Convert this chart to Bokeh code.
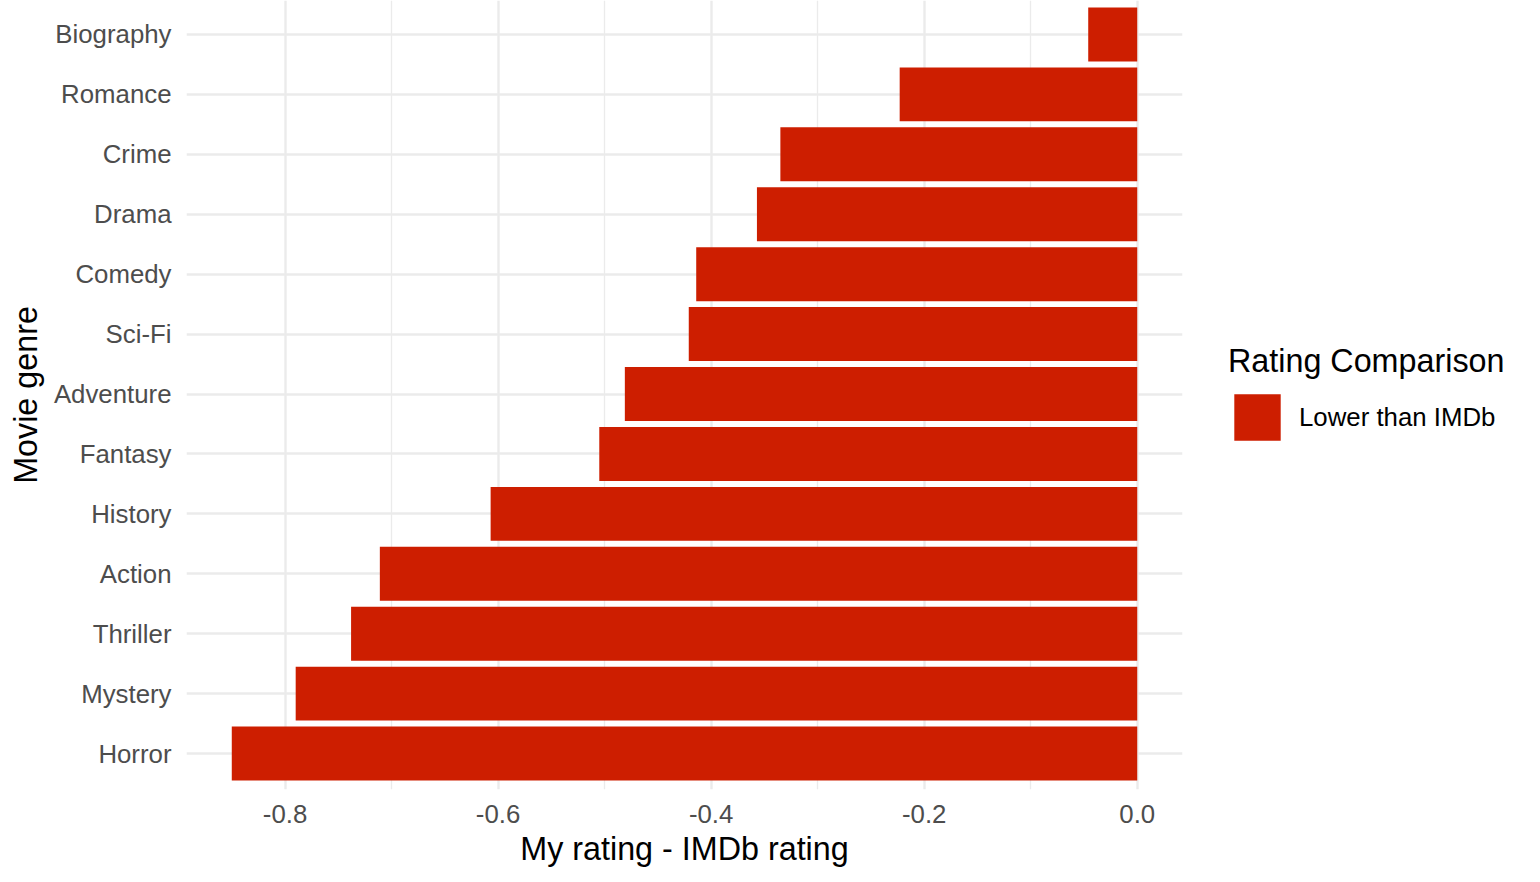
from bokeh.plotting import figure
from bokeh.models import (Range1d, FixedTicker, NumeralTickFormatter, Legend,
                          LegendItem, ColumnDataSource)
from bokeh.embed import file_html
from bokeh.resources import INLINE

# ---- data (top to bottom as shown) ----
genres = ["Biography", "Romance", "Crime", "Drama", "Comedy", "Sci-Fi",
          "Adventure", "Fantasy", "History", "Action", "Thriller", "Mystery",
          "Horror"]
diffs = [-0.046, -0.223, -0.335, -0.357, -0.414, -0.421, -0.481, -0.505,
         -0.607, -0.711, -0.738, -0.790, -0.850]
x_ticks = [-0.8, -0.6, -0.4, -0.2, 0.0]
x_minor = [-0.7, -0.5, -0.3, -0.1]
legend_label = "Lower than IMDb"
legend_title = "Rating Comparison"

BAR = "#CD1E00"
FONT = "Liberation Sans"

FL, FR, FB = 186, 1182, 789   # frame left / right / bottom in page px
H = 880

n = len(genres)
ypos = [n - i for i in range(n)]
src = ColumnDataSource(dict(y=ypos, right=diffs, left=[0] * n))

span = max(abs(v) for v in diffs)
xr = Range1d(min(diffs) - 0.05 * span, 0 + 0.05 * span)
yr = Range1d(0.4, n + 0.567)

p = figure(frame_width=FR - FL, frame_height=FB, x_range=xr, y_range=yr,
           min_border_left=FL, min_border_right=0, min_border_top=0,
           min_border_bottom=H - FB, output_backend="svg",
           toolbar_location=None)
p.outline_line_color = None
p.background_fill_color = "white"
p.border_fill_color = "white"

bars = p.hbar(y="y", left="left", right="right", height=0.9, source=src,
              fill_color=BAR, line_color=None)

# axes
xa = p.xaxis[0]
xa.ticker = FixedTicker(ticks=x_ticks, minor_ticks=x_minor)
xa.formatter = NumeralTickFormatter(format="0.0")
xa.axis_label = "My rating - IMDb rating"
xa.major_label_standoff = 11
xa.axis_label_standoff = 5

ya = p.yaxis[0]
ya.ticker = FixedTicker(ticks=ypos)
ya.major_label_overrides = {y: g for y, g in zip(ypos, genres)}
ya.axis_label = "Movie genre"
ya.major_label_standoff = 15
ya.axis_label_standoff = 7

for ax in (xa, ya):
    ax.axis_line_color = None
    ax.major_tick_line_color = None
    ax.minor_tick_line_color = None
    ax.major_tick_out = 0
    ax.major_tick_in = 0
    ax.major_label_text_font = FONT
    ax.major_label_text_font_size = "25.8px"
    ax.major_label_text_color = "#4D4D4D"
    ax.axis_label_text_font = FONT
    ax.axis_label_text_font_size = "32.3px"
    ax.axis_label_text_font_style = "normal"
    ax.axis_label_text_color = "black"

# grids
p.xgrid.grid_line_color = "#EBEBEB"
p.xgrid.grid_line_width = 2.4
p.xgrid.minor_grid_line_color = "#EBEBEB"
p.xgrid.minor_grid_line_width = 1.3
p.ygrid.grid_line_color = "#EBEBEB"
p.ygrid.grid_line_width = 2.4
p.ygrid.ticker = FixedTicker(ticks=ypos)

G = 58  # legend glyph box (bokeh insets the swatch by 10%)
legend = Legend(items=[LegendItem(label=legend_label, renderers=[bars])],
                title=legend_title, location=(46, FB - 446))
legend.margin = 0
legend.padding = 0
legend.border_line_color = None
legend.background_fill_color = None
legend.title_text_font = FONT
legend.title_text_font_size = "32.3px"
legend.title_text_font_style = "normal"
legend.title_text_color = "black"
legend.title_standoff = 8
legend.label_text_font = FONT
legend.label_text_font_size = "25.8px"
legend.label_text_color = "black"
legend.glyph_width = G
legend.glyph_height = G
legend.label_height = G
legend.label_standoff = 13
p.add_layout(legend, "right")

open("out.html", "w").write(file_html(p, INLINE))
